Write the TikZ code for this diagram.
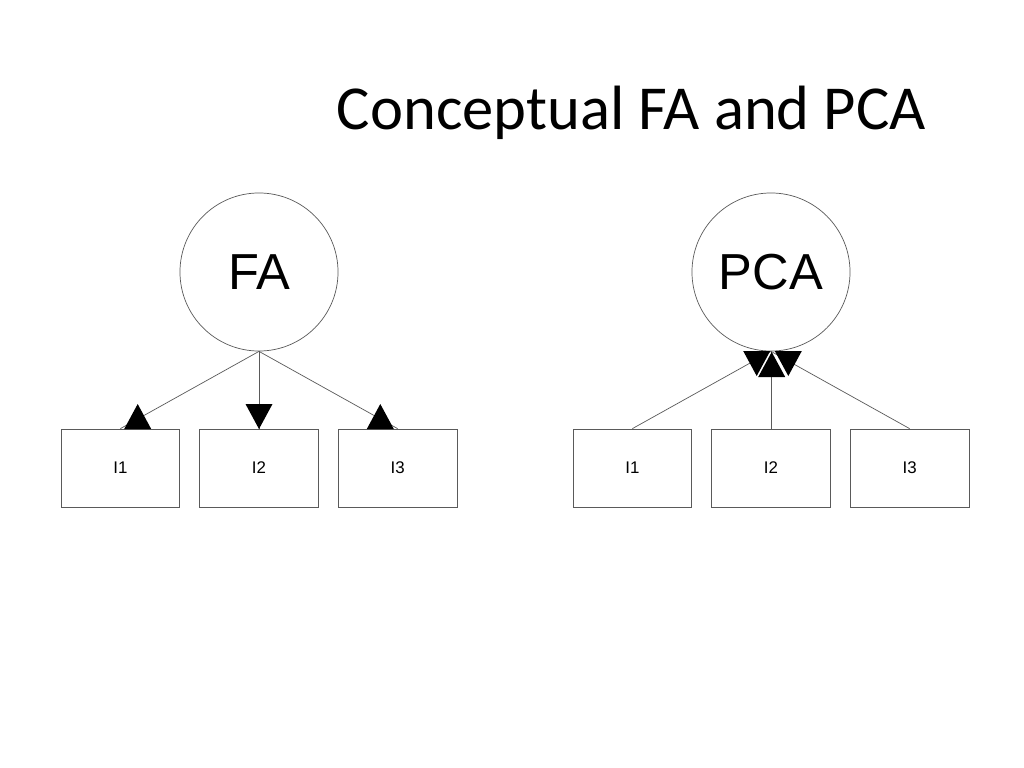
\documentclass[tikz,border=0pt]{standalone}
\usepackage{fontspec}
\setmainfont{Carlito}
\newfontfamily\diagfont{Liberation Sans}
\usepackage{xcolor}
\definecolor{pathgray}{HTML}{5A5A5A}
\definecolor{tipblack}{HTML}{000000}
\usepackage{tikz}
\usetikzlibrary{positioning}
\tikzset{%
  heading/.style={font=\fontsize{44.5}{52}\selectfont, inner sep=0pt},
  factor/.style={circle, draw=pathgray, line width=0.5pt, minimum size=3.95cm,
    inner sep=0pt, font=\diagfont\fontsize{36}{40}\selectfont},
  item/.style={rectangle, draw=pathgray, line width=0.5pt, minimum width=2.96cm,
    minimum height=1.95cm, inner sep=0pt, font=\diagfont\fontsize{12}{14}\selectfont},
  link/.style={draw=pathgray, line width=0.5pt}
}
% triangle tips, apex given
\newcommand{\uptip}[2]{\fill[tipblack] (#1,#2) -- ++(-13.5,25) -- ++(27,0) -- cycle;}
\newcommand{\downtip}[2]{\fill[tipblack] (#1,#2) -- ++(-13.5,-25) -- ++(27,0) -- cycle;}

\begin{document}
\begin{tikzpicture}[x=0.025cm, y=-0.025cm]
    \useasboundingbox (0,0) rectangle (1024,768);
    \fill[white] (0,0) rectangle (1024,768);
    \node[heading, anchor=base] (title) at (631.5,129.3) {Conceptual FA and PCA};
    % factor model
    \node[factor] (fa) at (259,272) {FA};
    \node[item] (fa2) at (259,468) {I2};
    \node[item, left=19.5*0.025cm of fa2] (fa1) {I1};
    \node[item, right=19.5*0.025cm of fa2] (fa3) {I3};
    \draw[link] (fa.south) -- (fa1.north);
    \draw[link] (fa.south) -- (fa2.north);
    \draw[link] (fa.south) -- (fa3.north);
    \uptip{137.7}{404}
    \downtip{259}{429}
    \uptip{380.3}{404}
    % components
    \node[factor] (pca) at (771,272) {PCA};
    \node[item] (pca2) at (771,468) {I2};
    \node[item, left=19.5*0.025cm of pca2] (pca1) {I1};
    \node[item, right=19.5*0.025cm of pca2] (pca3) {I3};
    \draw[link] (pca1.north) -- (pca.south);
    \draw[link] (pca2.north) -- (pca.south);
    \draw[link] (pca3.north) -- (pca.south);
    \downtip{756.7}{376}
    \uptip{771.7}{352}
    \downtip{788.3}{376}
\end{tikzpicture}
\end{document}
